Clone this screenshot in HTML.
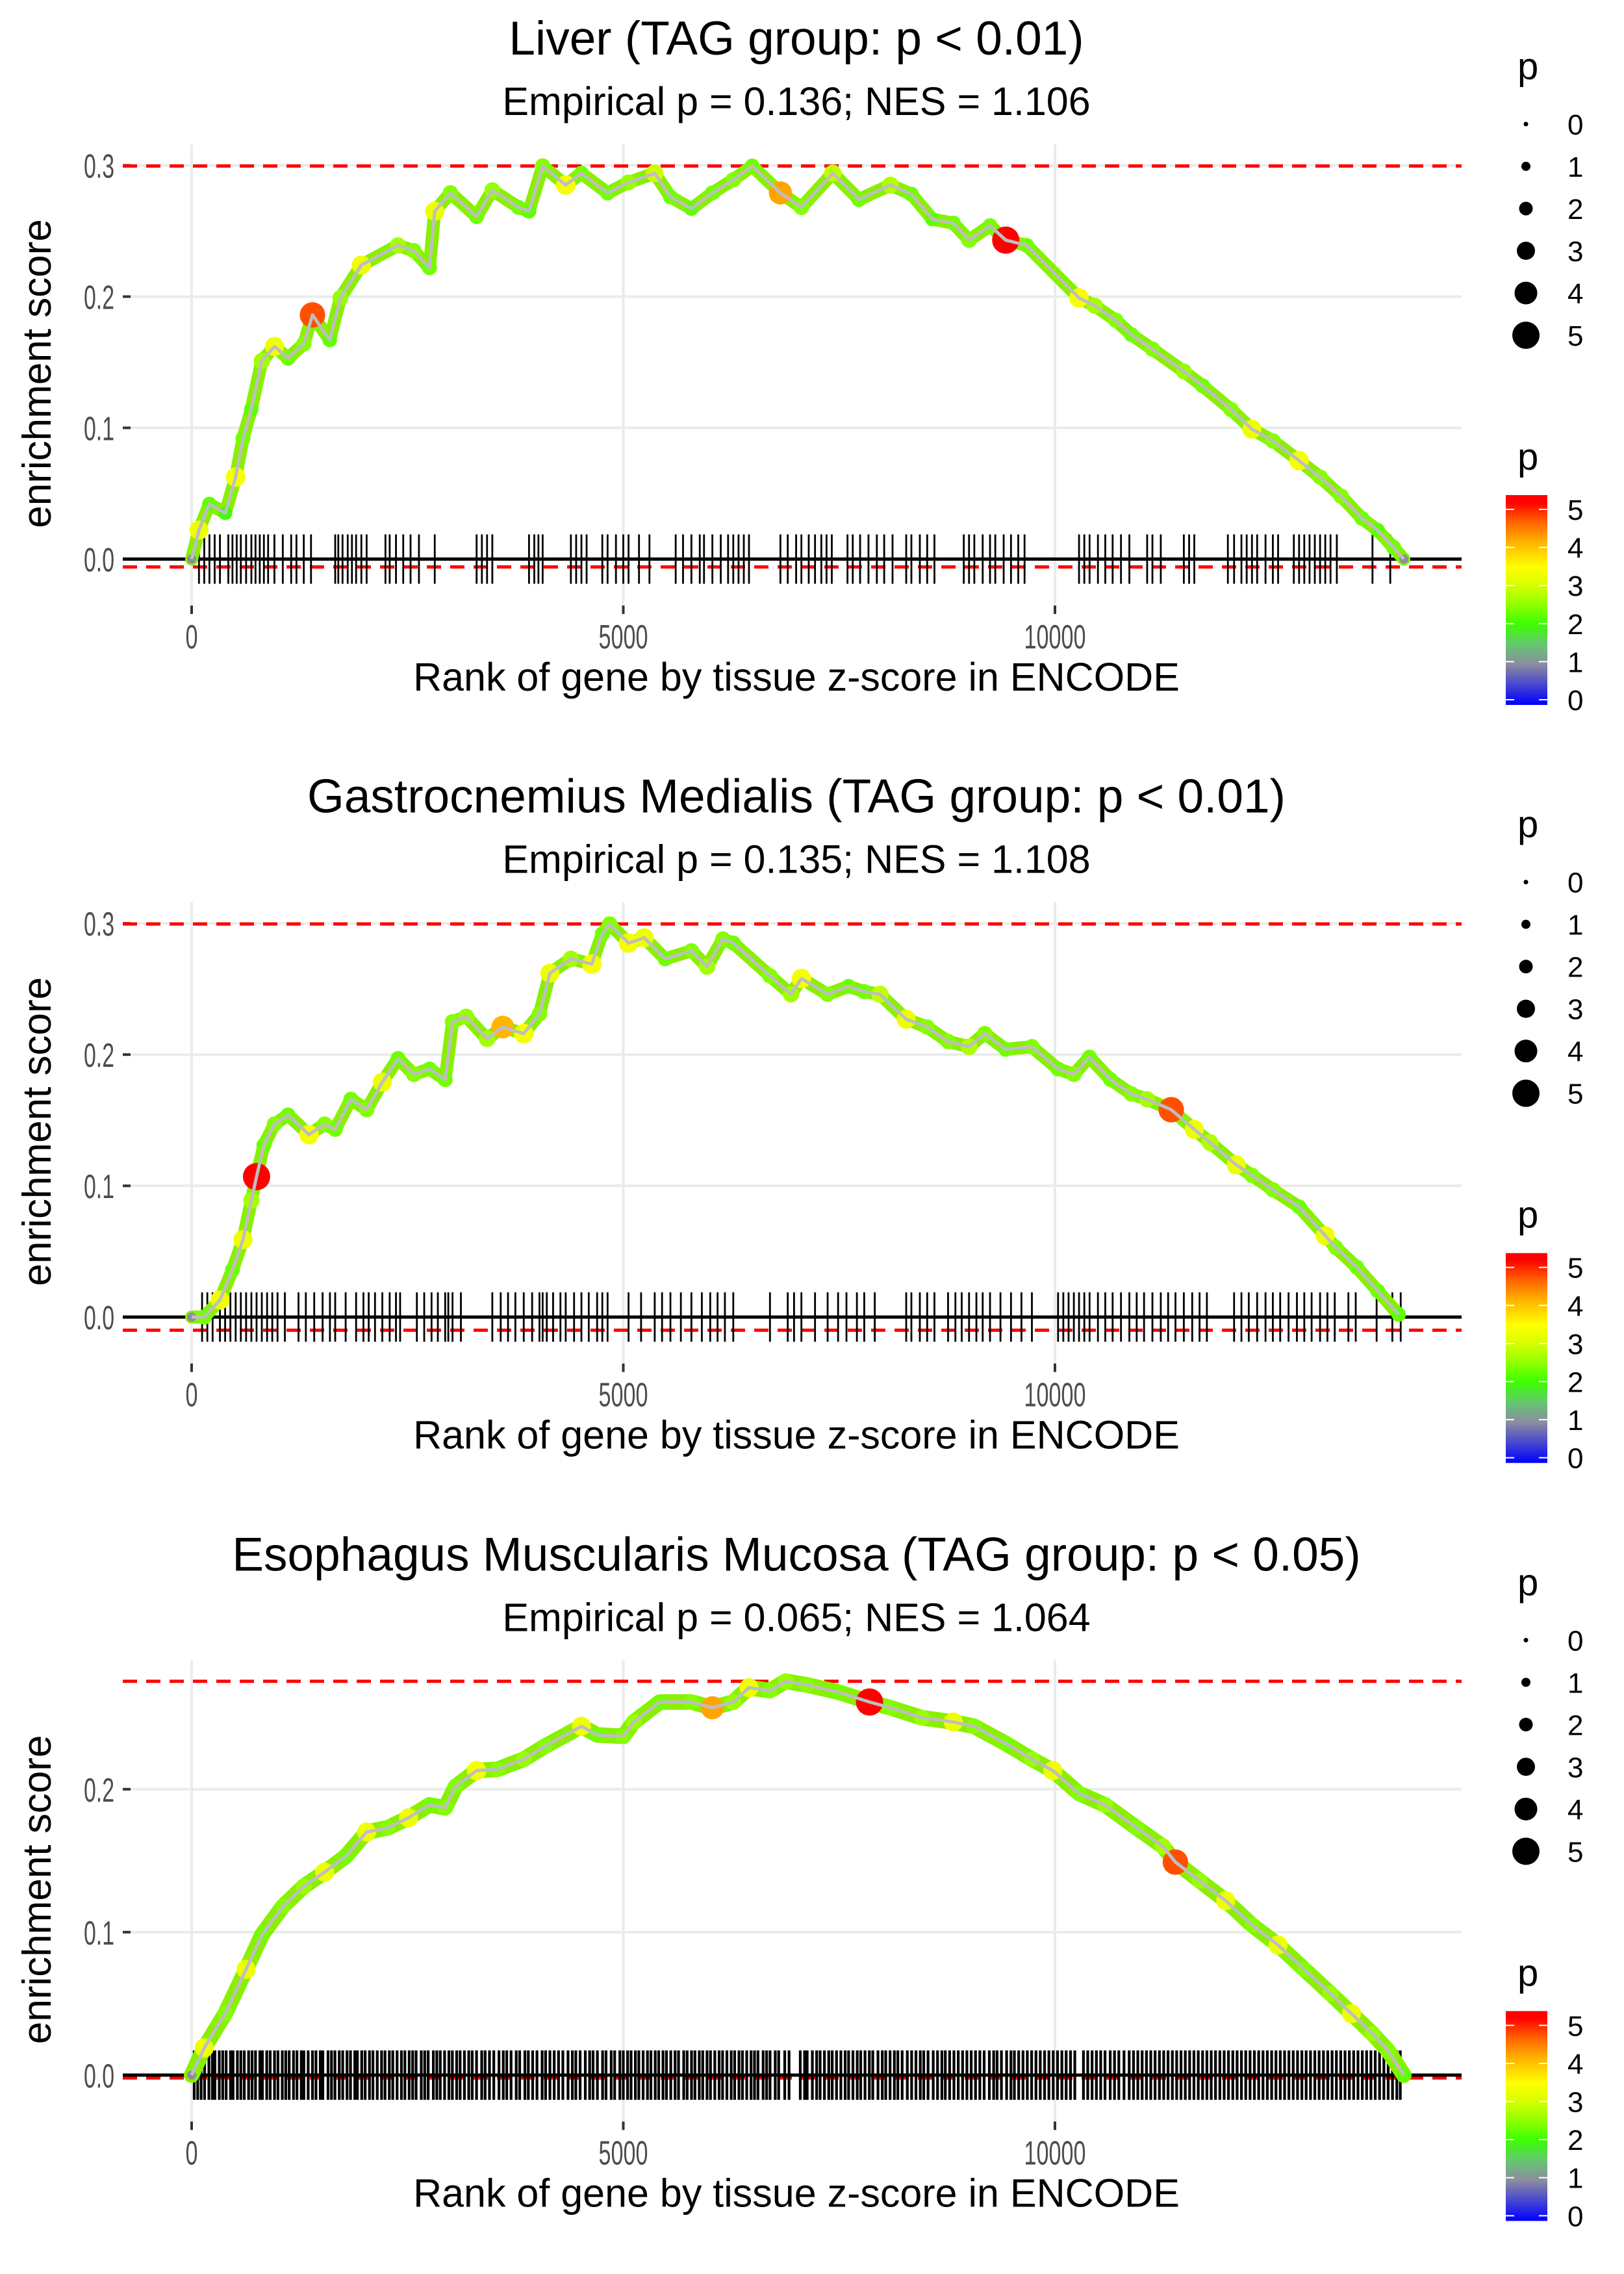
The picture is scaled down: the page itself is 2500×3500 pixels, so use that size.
<!DOCTYPE html>
<html><head><meta charset="utf-8">
<style>
html,body{margin:0;padding:0;background:#fff;}
svg{display:block;font-family:"Liberation Sans",sans-serif;}
</style></head>
<body>
<svg id="fig" width="2500" height="3500" viewBox="0 0 2500 3500" xmlns="http://www.w3.org/2000/svg"></svg>
<script>
// ---------- data ----------
const panelTitles = ["Liver (TAG group: p < 0.01)", "Gastrocnemius Medialis (TAG group: p < 0.01)", "Esophagus Muscularis Mucosa (TAG group: p < 0.05)"];
const panelSubtitles = ["Empirical p = 0.136; NES = 1.106", "Empirical p = 0.135; NES = 1.108", "Empirical p = 0.065; NES = 1.064"];
const xTicks = [0, 5000, 10000];
const yTicks1 = [0.0, 0.1, 0.2, 0.3];
const yTicks2 = [0.0, 0.1, 0.2, 0.3];
const yTicks3 = [0.0, 0.1, 0.2];
const esMax = [0.2995, 0.2995, 0.2755];
const esMin = [-0.006, -0.01, -0.002];
const legendSizes = [0, 1, 2, 3, 4, 5];

const rank1 = [0,85,206,390,510,595,690,813,960,1117,1300,1400,1600,1723,1966,2390,2573,2755,2816,2998,3300,3483,3786,3908,4066,4333,4515,4818,5060,5363,5546,5789,6032,6274,6493,6820,7063,7427,7730,8094,8337,8580,8823,9005,9248,9430,9673,10279,10461,10703,10886,11129,11493,11711,12039,12282,12525,12828,13071,13314,13556,13738,13920,14041];
const es1 = [0,0.022,0.042,0.035,0.0625,0.092,0.114,0.151,0.162,0.153,0.164,0.186,0.167,0.199,0.224,0.239,0.235,0.222,0.265,0.279,0.261,0.281,0.268,0.265,0.2995,0.285,0.294,0.279,0.287,0.294,0.276,0.267,0.279,0.289,0.2995,0.279,0.268,0.294,0.274,0.285,0.278,0.259,0.256,0.243,0.254,0.243,0.239,0.199,0.193,0.182,0.171,0.160,0.143,0.132,0.114,0.099,0.090,0.075,0.0625,0.048,0.031,0.022,0.009,0.0];
const p1 = [1,3.2,2.2,2,3.3,2.3,2.2,2.6,3.2,2.3,2.4,4.6,2.2,2.5,3.2,2.6,2.4,2.3,3.2,2.4,2.3,2.5,2.3,2.2,2.4,3.3,2.3,2.3,2.5,2.9,2.3,2.2,2.3,2.4,2.3,4.1,2.4,2.8,2.3,2.7,2.3,2.2,2.3,2.4,2.3,5,2.3,3.3,2.6,2.4,2.3,2.4,2.5,2.3,2.4,3.2,2.4,3.3,2.4,2.4,2.3,2.2,2.3,1];
const rug1 = [85,146,206,267,328,425,473,522,570,631,692,740,789,837,886,959,1056,1153,1214,1299,1383,1663,1699,1748,1808,1857,1905,1966,2027,2245,2294,2367,2451,2536,2633,2816,3301,3362,3422,3483,3908,3969,4017,4066,4393,4454,4515,4575,4757,4818,4915,5000,5061,5182,5303,5607,5692,5789,5886,5935,6032,6129,6214,6274,6335,6396,6456,6820,6905,7002,7063,7148,7221,7294,7354,7415,7597,7658,7743,7840,7937,8022,8119,8277,8337,8435,8520,8604,8944,9005,9066,9163,9248,9309,9406,9491,9575,9648,10279,10340,10401,10498,10583,10668,10765,10862,11068,11129,11226,11493,11554,11614,12003,12075,12160,12221,12282,12342,12439,12524,12585,12767,12828,12888,12949,13010,13071,13131,13192,13265,13678,13884];

const rank2 = [0,146,328,473,595,692,752,837,959,1117,1359,1541,1663,1845,2027,2209,2391,2573,2755,2937,3022,3180,3422,3604,3847,4029,4150,4393,4635,4757,4842,5060,5242,5485,5789,5970,6153,6274,6699,6942,7063,7366,7609,7791,7973,8276,8519,8762,9005,9187,9430,9733,10037,10219,10400,10643,10886,11068,11347,11614,11796,12100,12282,12525,12828,13131,13253,13496,13738,13981];
const es2 = [0,0,0.013,0.036,0.059,0.089,0.107,0.131,0.147,0.154,0.139,0.147,0.143,0.166,0.158,0.179,0.197,0.185,0.189,0.181,0.225,0.229,0.212,0.221,0.216,0.231,0.262,0.273,0.269,0.292,0.2995,0.285,0.289,0.273,0.279,0.267,0.288,0.285,0.260,0.246,0.258,0.246,0.252,0.248,0.246,0.227,0.221,0.210,0.206,0.216,0.204,0.206,0.189,0.185,0.198,0.181,0.170,0.166,0.158,0.143,0.133,0.116,0.108,0.097,0.084,0.062,0.053,0.038,0.020,0.002];
const p2 = [1,2.3,3.2,2.3,3.2,2.6,5,2.3,2.4,2.3,3.3,2.4,2.3,2.3,2.4,3.2,2.3,2.4,2.3,2.3,2.4,2.5,2.6,4,3.3,2.4,3.2,2.6,3.3,2.3,2.4,3.3,3.2,2.3,2.4,2.6,2.4,2.3,2.4,2.6,3.3,2.4,2.3,2.3,2.8,3.2,2.4,2.4,2.7,2.4,2.3,2.4,2.3,2.4,2.3,2.3,2.4,2.6,4.6,3.2,2.7,3.2,2.4,2.4,2.3,3.2,2.4,2.3,2.3,2.2];
const rug2 = [121,182,243,328,388,449,510,570,631,692,752,813,874,934,995,1080,1238,1323,1420,1517,1602,1663,1784,1905,1990,2051,2124,2209,2294,2367,2415,2609,2694,2779,2852,2937,2973,3022,3119,3483,3580,3665,3750,3847,3944,4029,4066,4114,4187,4272,4333,4430,4515,4600,4697,4757,4818,5061,5206,5364,5449,5546,5667,5789,5910,6007,6092,6177,6274,6699,6905,6978,7063,7221,7367,7488,7585,7706,7791,7913,8277,8337,8435,8520,8604,8762,8847,8920,9005,9090,9163,9248,9369,9491,9612,9733,10036,10097,10158,10219,10279,10340,10401,10498,10583,10668,10765,10862,10947,11032,11129,11226,11311,11396,11493,11590,11675,11760,12075,12160,12245,12342,12439,12524,12609,12706,12803,12888,12973,13071,13156,13241,13399,13484,13726,13908,14005];

const rank3 = [0,146,388,631,813,1056,1299,1541,1784,2027,2270,2512,2755,2937,3058,3301,3544,3847,4090,4515,4697,5000,5121,5424,5789,6032,6274,6456,6699,6881,7124,7488,7852,8094,8459,8823,9065,9430,9733,9976,10279,10582,10946,11250,11395,11675,11978,12282,12585,12888,13192,13435,13678,13859,14041];
const es3 = [0,0.019,0.043,0.074,0.098,0.118,0.132,0.142,0.153,0.170,0.173,0.180,0.189,0.187,0.202,0.213,0.214,0.221,0.230,0.244,0.238,0.237,0.247,0.261,0.261,0.257,0.261,0.271,0.269,0.2755,0.273,0.268,0.261,0.257,0.250,0.247,0.244,0.232,0.221,0.213,0.197,0.189,0.173,0.160,0.149,0.136,0.122,0.105,0.091,0.074,0.057,0.043,0.029,0.017,0.0];
const p3 = [1,3.2,2.4,3.2,2.3,2.4,2.5,3.2,2.3,3.2,2.4,3.2,2.3,2.4,2.4,3.3,2.4,2.5,2.4,3.2,2.3,2.4,2.5,2.3,2.4,4.1,2.5,3.2,2.4,2.5,2.4,2.3,5,2.4,2.5,3.2,2.4,2.3,2.5,3.2,2.4,2.5,2.4,2.6,4.6,2.5,3.2,2.4,3.2,2.4,2.5,3.2,2.5,2.4,2.2];
const rug3 = [30,70,110,150,200,240,270,320,360,400,450,480,530,570,610,660,700,740,790,820,870,910,960,1000,1050,1090,1130,1180,1220,1270,1300,1350,1400,1440,1490,1520,1580,1620,1660,1710,1750,1800,1840,1890,1920,1970,2010,2060,2100,2150,2200,2240,2290,2330,2380,2430,2470,2520,2560,2600,2660,2700,2740,2800,2840,2880,2930,2980,3020,3070,3110,3160,3210,3250,3300,3360,3400,3450,3500,3560,3610,3650,3700,3760,3800,3860,3900,3950,4000,4060,4100,4150,4200,4250,4300,4360,4410,4450,4500,4560,4610,4650,4700,4760,4800,4860,4900,4960,5000,5050,5090,5140,5180,5230,5280,5320,5370,5410,5460,5500,5550,5600,5640,5700,5740,5790,5830,5880,5920,5970,6010,6060,6110,6150,6200,6250,6290,6340,6380,6430,6480,6520,6560,6620,6660,6700,6760,6800,6870,6920,7050,7100,7130,7190,7240,7280,7330,7380,7420,7470,7520,7570,7610,7660,7710,7750,7800,7850,7890,7950,8000,8040,8090,8140,8180,8230,8290,8340,8390,8440,8480,8530,8590,8640,8690,8730,8780,8830,8880,8930,8980,9030,9080,9130,9180,9240,9290,9330,9380,9440,9490,9530,9580,9630,9680,9730,9780,9830,9880,9930,9980,10030,10080,10130,10180,10230,10330,10380,10430,10480,10530,10580,10640,10690,10740,10800,10860,10910,10960,11010,11060,11110,11160,11210,11260,11310,11360,11410,11460,11510,11560,11610,11660,11710,11760,11810,11860,11910,11960,12010,12060,12110,12160,12210,12260,12310,12360,12410,12460,12510,12560,12610,12660,12710,12760,12810,12860,12910,12960,13010,13060,13110,13160,13210,13260,13310,13360,13410,13460,13510,13560,13610,13660,13710,13760,13810,13860,13910,13960,14000];

// ---------- drawing ----------
const NS = "http://www.w3.org/2000/svg";
const svg = document.getElementById("fig");
function mk(tag, attrs, parent) {
  const e = document.createElementNS(NS, tag);
  for (const k in attrs) e.setAttribute(k, attrs[k]);
  (parent || svg).appendChild(e);
  return e;
}
const stops = [[0,[0,0,255]],[1,[140,140,160]],[1.5,[100,200,110]],[2,[60,255,0]],[2.5,[150,255,0]],[3,[220,255,0]],[3.4,[255,255,0]],[4,[255,180,0]],[4.5,[255,100,0]],[5,[255,0,0]]];
function colorFor(p) {
  for (let i = 1; i < stops.length; i++) {
    if (p <= stops[i][0]) {
      const a = stops[i-1], b = stops[i], t = (p - a[0]) / (b[0] - a[0]);
      const c = a[1].map((v, j) => Math.round(v + (b[1][j] - v) * t));
      return "rgb(" + c.join(",") + ")";
    }
  }
  return "rgb(255,0,0)";
}
function sizeFor(p) { return 3.5 + 3.5 * p; }
function labelWidth(s) { let w = 0; for (const ch of s) w += (ch === "." ? 9 : 19); return w; }

const panels = [
  {rank: rank1, es: es1, p: p1, rug: rug1, yt: yTicks1, ys: 2020},
  {rank: rank2, es: es2, p: p2, rug: rug2, yt: yTicks2, ys: 2020},
  {rank: rank3, es: es3, p: p3, rug: rug3, yt: yTicks3, ys: 2200}
];
const PL = 189, PR = 2250, X0 = 295, XS = 664.5 / 5000;
const xPos = r => X0 + r * XS;

panels.forEach((pd, i) => {
  const oy = i * 1166.67;
  const g = mk("g", {transform: "translate(0," + oy + ")"});
  
  
  const yPos = v => 860.5 - v * pd.ys;

  xTicks.forEach(t => {
    const l = mk("line", {x1: xPos(t), x2: xPos(t), y1: 222, y2: 942, stroke: "#ebebeb", "stroke-width": 4}, g);
    
    
  });
  pd.yt.forEach(t => {
    const l = mk("line", {x1: PL, x2: PR, y1: yPos(t), y2: yPos(t), stroke: "#ebebeb", "stroke-width": 4}, g);
    
    
  });

  const t1 = mk("text", {x: 1226, y: 84, "text-anchor": "middle", "font-size": 73, fill: "#000"}, g);
  t1.textContent = panelTitles[i];
  
  
  const t2 = mk("text", {x: 1226, y: 177, "text-anchor": "middle", "font-size": 61, fill: "#000"}, g);
  t2.textContent = panelSubtitles[i];
  
  

  pd.yt.forEach(t => {
    const tk = mk("line", {x1: 189, x2: 201, y1: yPos(t), y2: yPos(t), stroke: "#333", "stroke-width": 4}, g);
    
    
    const s = t.toFixed(1);
    const lb = mk("text", {x: 176, y: yPos(t) + 19, "text-anchor": "end", "font-size": 52, fill: "#4d4d4d", textLength: labelWidth(s), lengthAdjust: "spacingAndGlyphs"}, g);
    lb.textContent = s;
    
    
  });
  xTicks.forEach(t => {
    const tk = mk("line", {x1: xPos(t), x2: xPos(t), y1: 932, y2: 945, stroke: "#333", "stroke-width": 4}, g);
    
    
    const s = String(t);
    const lb = mk("text", {x: xPos(t), y: 998, "text-anchor": "middle", "font-size": 52, fill: "#4d4d4d", textLength: labelWidth(s), lengthAdjust: "spacingAndGlyphs"}, g);
    lb.textContent = s;
    
    
  });
  const xt = mk("text", {x: 1226, y: 1063, "text-anchor": "middle", "font-size": 61, fill: "#000"}, g);
  xt.textContent = "Rank of gene by tissue z-score in ENCODE";
  
  
  const yt = mk("text", {x: 0, y: 0, "text-anchor": "middle", "font-size": 62, fill: "#000", transform: "translate(78," + 575 + ") rotate(-90)"}, g);
  yt.textContent = "enrichment score";
  
  

  [esMax[i], esMin[i]].forEach((v, k) => {
    const l = mk("line", {x1: PL, x2: PR, y1: yPos(v), y2: yPos(v), stroke: "#ff0000", "stroke-width": 5, "stroke-dasharray": "22,14"}, g);
    
    
  });

  const rg = mk("g", {}, g);
  
  
  pd.rug.forEach(r => {
    const l = mk("line", {x1: xPos(r), x2: xPos(r), y1: yPos(0) - 38, y2: yPos(0) + 38, stroke: "#000", "stroke-width": i === 2 ? 4.2 : 2.8}, rg);
    
    
  });
  const z = mk("line", {x1: PL, x2: PR, y1: yPos(0), y2: yPos(0), stroke: "#000", "stroke-width": 5}, g);
  
  

  let d = "";
  pd.rank.forEach((r, k) => { d += (k ? "L" : "M") + xPos(r).toFixed(1) + "," + yPos(pd.es[k]).toFixed(1); });
  const under = mk("path", {d: d, fill: "none", stroke: "#88f000", "stroke-width": i === 2 ? 24 : 20, "stroke-linejoin": "round", "stroke-linecap": "round"}, g);
  
  
  const pg = mk("g", {}, g);
  
  
  pd.rank.forEach((r, k) => {
    const c = mk("circle", {cx: xPos(r), cy: yPos(pd.es[k]), r: sizeFor(pd.p[k]), fill: colorFor(pd.p[k])}, pg);
    
    
  });
  const line = mk("path", {d: d, fill: "none", stroke: "#bebebe", "stroke-width": 5, "stroke-linejoin": "round"}, g);
  
  

  const sl = mk("g", {}, g);
  
  
  const st = mk("text", {x: 2336, y: 122, "font-size": 58, fill: "#000"}, sl);
  st.textContent = "p";
  
  
  legendSizes.forEach((s, k) => {
    const cy = 191 + k * 65;
    const c = mk("circle", {cx: 2349, cy: cy, r: sizeFor(s), fill: "#000"}, sl);
    
    
    const lb = mk("text", {x: 2413, y: cy + 16, "font-size": 44, fill: "#000"}, sl);
    lb.textContent = String(s);
    
    
  });

  const cl = mk("g", {}, g);
  
  
  const ct = mk("text", {x: 2336, y: 723, "font-size": 58, fill: "#000"}, cl);
  ct.textContent = "p";
  
  
  const gid = "grad" + i;
  const defs = mk("defs", {}, cl);
  const lg = mk("linearGradient", {id: gid, x1: 0, y1: 1, x2: 0, y2: 0}, defs);
  stops.forEach(s => { mk("stop", {offset: (s[0] / 5.17).toFixed(3), "stop-color": colorFor(s[0])}, lg); });
  mk("stop", {offset: 1, "stop-color": "rgb(255,0,0)"}, lg);
  const bar = mk("rect", {x: 2318, y: 762, width: 64, height: 323, fill: "url(#" + gid + ")"}, cl);
  
  
  legendSizes.forEach(s => {
    const y = 1077 - s * 58.6;
    mk("line", {x1: 2318, x2: 2331, y1: y, y2: y, stroke: "#fff", "stroke-width": 2}, cl);
    mk("line", {x1: 2369, x2: 2382, y1: y, y2: y, stroke: "#fff", "stroke-width": 2}, cl);
    const lb = mk("text", {x: 2413, y: y + 16, "font-size": 44, fill: "#000"}, cl);
    lb.textContent = String(s);
    
    
  });
});
</script>
</body></html>
